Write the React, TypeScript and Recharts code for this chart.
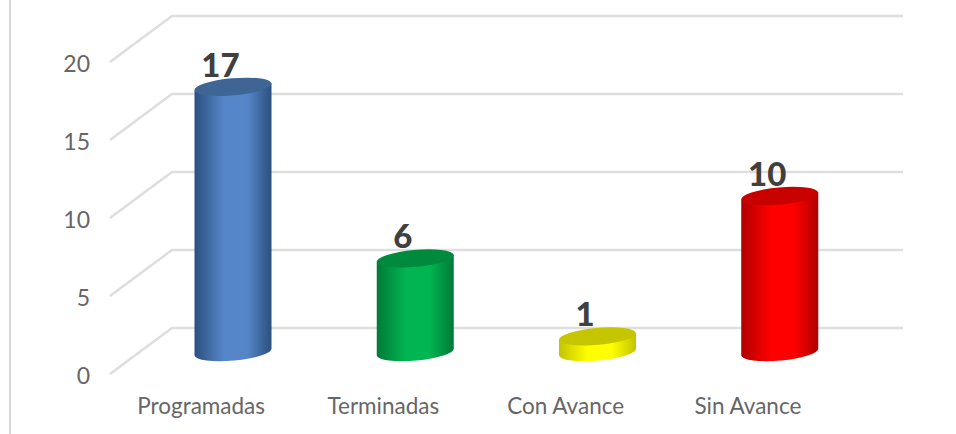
import React from 'react'
import { BarChart, Bar, XAxis, YAxis, CartesianGrid, LabelList } from 'recharts'

const categories = ['Programadas', 'Terminadas', 'Con Avance', 'Sin Avance']
const values = [17, 6, 1, 10]
const yTicks = [0, 5, 10, 15, 20]

const edgeColors = ['#2c507f', '#007a38', '#c4c400', '#b00000']
const midColors = ['#5686ca', '#00b552', '#ffff00', '#ff0000']
const capColors = ['#3f6595', '#008a3e', '#c6c600', '#c80000']

const data = categories.map((name, i) => ({ name, value: values[i] }))

const FONT = 'Lato, sans-serif'
const WALL_DX = 62
const WALL_DY = 46

// pseudo 3D cylinder, pushed halfway into the floor
function Cylinder(props: any) {
  const { x, y, width, height, index } = props
  const left = x + 31.5
  const right = left + width
  const top = y - 22
  const bottom = top + height
  const rx = width / 2
  const ry = 8.5
  const tilt = 3.5
  const d = `M${left} ${top + tilt} L${left} ${bottom + tilt} A${rx} ${ry} -5 0 0 ${right} ${bottom - tilt} L${right} ${top - tilt} Z`
  const cap = `M${left} ${top + tilt} A${rx} ${ry} -5 0 1 ${right} ${top - tilt} A${rx} ${ry} -5 0 1 ${left} ${top + tilt} Z`
  return (
    <g>
      <path d={d} fill={`url(#cyl-${index})`} />
      <path d={cap} fill={capColors[index]} />
    </g>
  )
}

function WallLine(props: any) {
  const { x1, x2, y1 } = props
  return (
    <path
      d={`M${x1} ${y1} L${x1 + WALL_DX} ${y1 - WALL_DY} L${x2 + WALL_DX + 2} ${y1 - WALL_DY}`}
      fill="none"
      stroke="#dedede"
      strokeWidth={2.5}
    />
  )
}

function ValueLabel(props: any) {
  const { x, y, width, value } = props
  return (
    <text
      x={x + width / 2 + 19}
      y={y - 45}
      textAnchor="middle"
      dominantBaseline="central"
      fontFamily={FONT}
      fontWeight={900}
      fontSize={33}
      fill="#404040"
    >
      {value}
    </text>
  )
}

export default function App() {
  return (
    <div style={{ position: 'absolute', left: 0, top: 0, width: 956, height: 434, background: '#fff', overflow: 'hidden' }}>
      <div style={{ position: 'absolute', left: 9, top: 0, width: 2, height: 434, background: '#d9d9d9' }} />
      <BarChart
        width={956}
        height={434}
        data={data}
        margin={{ top: 62, right: 117, bottom: 20, left: 50 }}
        barSize={77}
      >
        <defs>
          {categories.map((c, i) => (
            <linearGradient key={c} id={`cyl-${i}`} x1="0" y1="0" x2="1" y2="0">
              <stop offset="0%" stopColor={edgeColors[i]} />
              <stop offset="38%" stopColor={midColors[i]} />
              <stop offset="68%" stopColor={midColors[i]} />
              <stop offset="100%" stopColor={edgeColors[i]} />
            </linearGradient>
          ))}
        </defs>
        <CartesianGrid vertical={false} horizontal={(p: any) => <WallLine key={p.key ?? p.y1} {...p} />} />
        <XAxis
          dataKey="name"
          height={40}
          axisLine={false}
          tickLine={false}
          tickMargin={18}
          interval={0}
          tick={{ fontFamily: FONT, fontSize: 22.5, fill: '#666666' }}
        />
        <YAxis
          width={60}
          domain={[0, 20]}
          ticks={yTicks}
          axisLine={false}
          tickLine={false}
          tickMargin={14}
          tick={{ fontFamily: FONT, fontSize: 23, fill: '#666666', dy: 2 }}
        />
        <Bar dataKey="value" shape={Cylinder} isAnimationActive={false}>
          <LabelList dataKey="value" content={ValueLabel} />
        </Bar>
      </BarChart>
    </div>
  )
}
